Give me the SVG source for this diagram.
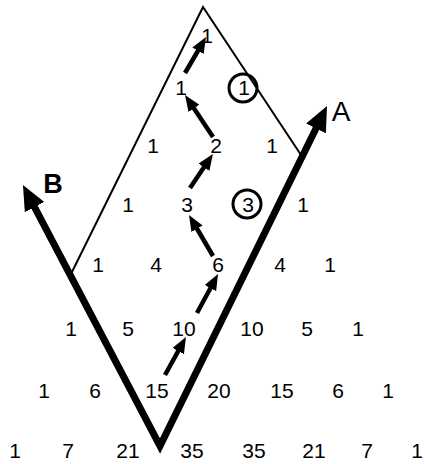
<svg xmlns="http://www.w3.org/2000/svg" width="425" height="464" viewBox="0 0 425 464">
<style>
.n{font-family:"Liberation Sans",Arial,sans-serif;font-size:21px;text-anchor:middle;fill:#000}
.thin{fill:none;stroke:#000;stroke-width:2}
.thick{fill:none;stroke:#000;stroke-width:7;stroke-linejoin:miter;stroke-miterlimit:10}
.small{fill:none;stroke:#000;stroke-width:4.5}
.ring{fill:none;stroke:#000;stroke-width:3}
</style>
<defs>
<marker id="big" viewBox="0 0 25 22" markerWidth="25" markerHeight="22" refX="15" refY="11" orient="auto-start-reverse" markerUnits="userSpaceOnUse">
<path d="M0,0 L25,11 L0,22 z" fill="#000"/>
</marker>
<marker id="sm" viewBox="0 0 16 13" markerWidth="16" markerHeight="13" refX="9" refY="6.5" orient="auto" markerUnits="userSpaceOnUse">
<path d="M0,0 L16,6.5 L0,13 z" fill="#000"/>
</marker>
</defs>
<rect width="425" height="464" fill="#fff"/>
<g id="connectors">
<path id="diamond" class="thin" d="M70,276 L203,7 L303,158"/>
<path id="v-arrows" class="thick" d="M27.6,193.8 L160,446 L322.6,115" marker-start="url(#big)" marker-end="url(#big)"/>
<line class="small" x1="165" y1="375" x2="182.6" y2="343.2" marker-end="url(#sm)"/>
<line class="small" x1="197" y1="313" x2="214.7" y2="280.2" marker-end="url(#sm)"/>
<line class="small" x1="213" y1="256" x2="192.5" y2="221" marker-end="url(#sm)"/>
<line class="small" x1="190" y1="188" x2="209" y2="159.8" marker-end="url(#sm)"/>
<line class="small" x1="213" y1="137" x2="188.9" y2="100.8" marker-end="url(#sm)"/>
<line class="small" x1="185" y1="73" x2="202.5" y2="43" marker-end="url(#sm)"/>
</g>
<g id="labels">
<text x="53" y="193" style="font-family:'Liberation Sans',Arial,sans-serif;font-size:27px;font-weight:bold" text-anchor="middle">B</text>
<text x="341" y="121" style="font-family:'Liberation Sans',Arial,sans-serif;font-size:28px" text-anchor="middle">A</text>
</g>
<g id="row0"><text class="n" x="207" y="43">1</text></g>
<g id="row1"><text class="n" x="181" y="95">1</text><circle class="ring" cx="243" cy="88" r="14"/><text class="n" x="244" y="95">1</text></g>
<g id="row2"><text class="n" x="153" y="153">1</text><text class="n" x="216" y="153">2</text><text class="n" x="272" y="153">1</text></g>
<g id="row3"><text class="n" x="128" y="212">1</text><text class="n" x="187" y="212">3</text><circle class="ring" cx="247" cy="204" r="14"/><text class="n" x="248" y="212">3</text><text class="n" x="303" y="212">1</text></g>
<g id="row4"><text class="n" x="98" y="272">1</text><text class="n" x="156" y="272">4</text><text class="n" x="218" y="272">6</text><text class="n" x="280" y="272">4</text><text class="n" x="330" y="272">1</text></g>
<g id="row5"><text class="n" x="71" y="336">1</text><text class="n" x="128" y="336">5</text><text class="n" x="184" y="336">10</text><text class="n" x="252" y="336">10</text><text class="n" x="307" y="336">5</text><text class="n" x="358" y="336">1</text></g>
<g id="row6"><text class="n" x="44" y="398">1</text><text class="n" x="95" y="398">6</text><text class="n" x="157" y="398">15</text><text class="n" x="219" y="398">20</text><text class="n" x="282" y="398">15</text><text class="n" x="338" y="398">6</text><text class="n" x="388" y="398">1</text></g>
<g id="row7"><text class="n" x="15" y="458">1</text><text class="n" x="68" y="458">7</text><text class="n" x="128" y="458">21</text><text class="n" x="192" y="458">35</text><text class="n" x="254" y="458">35</text><text class="n" x="314" y="458">21</text><text class="n" x="367" y="458">7</text><text class="n" x="417" y="458">1</text></g>
</svg>
